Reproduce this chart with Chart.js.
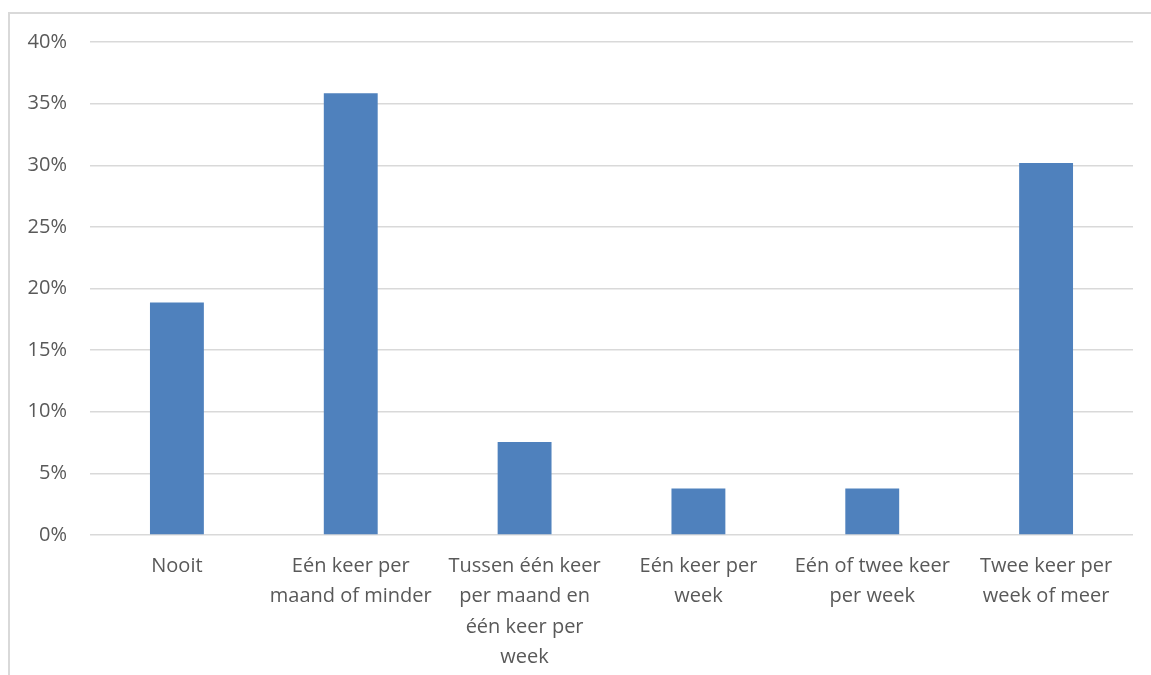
<!DOCTYPE html>
<html>
<head>
<meta charset="utf-8">
<script src="https://cdn.jsdelivr.net/npm/chart.js@4/dist/chart.umd.min.js"></script>
<style>
  html, body { margin: 0; padding: 0; background: #ffffff; }
  #wrap { position: relative; width: 1151px; height: 675px; overflow: hidden; }
  #frame { position: absolute; left: 8px; top: 12px; width: 1200px; height: 700px;
           border-left: 2px solid #d9d9d9; border-top: 2px solid #d9d9d9; box-sizing: border-box; }
  canvas { position: absolute; left: 0; top: 0; }
</style>
</head>
<body>
<div id="wrap">
  <div id="frame"></div>
  <canvas id="c" width="1151" height="675"></canvas>
</div>
<script>
// Hoe vaak: antwoordcategorieën (meerregelige labels)
const categories = [
  ["Nooit"],
  ["Eén keer per", "maand of minder"],
  ["Tussen één keer", "per maand en", "één keer per", "week"],
  ["Eén keer per", "week"],
  ["Eén of twee keer", "per week"],
  ["Twee keer per", "week of meer"]
];
// Aandeel respondenten (%)
const shares = [18.87, 35.85, 7.55, 3.77, 3.77, 30.19];
// Labels van de verticale as
const yTicks = [0, 5, 10, 15, 20, 25, 30, 35, 40];

const fontFamily = "'Open Sans', 'Liberation Sans', sans-serif";

new Chart(document.getElementById('c'), {
  type: 'bar',
  data: {
    labels: categories,
    datasets: [{
      data: shares,
      backgroundColor: '#4f81bd',
      borderWidth: 0,
      barPercentage: 0.31,
      categoryPercentage: 1.0
    }]
  },
  options: {
    responsive: false,
    animation: false,
    layout: { padding: { top: 42, right: 18, left: 0, bottom: 0 } },
    plugins: { legend: { display: false }, tooltip: { enabled: false } },
    scales: {
      x: {
        grid: { display: false, drawTicks: false },
        border: { display: false },
        ticks: {
          color: '#595959',
          font: { family: fontFamily, size: 20, lineHeight: 1.52 },
          padding: 16,
          maxRotation: 0,
          autoSkip: false
        },
        afterFit: (s) => { s.height = 140; }
      },
      y: {
        min: 0,
        max: 40,
        afterBuildTicks: (s) => { s.ticks = yTicks.map(v => ({ value: v })); },
        grid: { color: '#d9d9d9', lineWidth: 1.5, drawTicks: false },
        border: { display: false },
        ticks: {
          color: '#595959',
          font: { family: fontFamily, size: 20 },
          padding: 23,
          callback: (v) => v + '%'
        },
        afterFit: (s) => { s.width = 90; }
      }
    }
  }
});
</script>
</body>
</html>
